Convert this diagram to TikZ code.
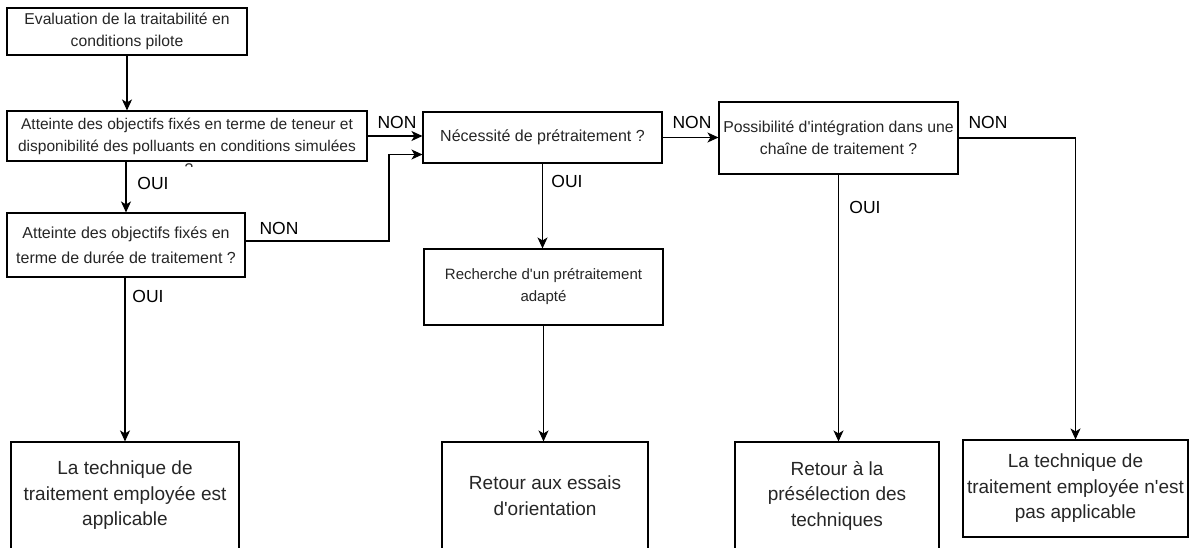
\documentclass[tikz,border=0pt]{standalone}
\usepackage{fontspec}
\setmainfont{Liberation Sans}[Ligatures=TeXOff]
\usetikzlibrary{arrows.meta}
\begin{document}
\begin{tikzpicture}[x=1pt,y=-1pt,
  box/.style={draw=black,line width=1.1pt,align=center,inner sep=0pt,text=black!85,
    font=\fontsize{15.5}{22}\selectfont},
  endbox/.style={box,font=\fontsize{19}{25.5}\selectfont},
  lab/.style={inner sep=0pt,font=\fontsize{17.5}{20}\selectfont,text=black},
  conn/.style={draw=black,line width=1.15pt},
  arr/.style={conn,-{Stealth[length=11pt,width=10pt,inset=3pt]}}]
\useasboundingbox[fill=white] (0,0) rectangle (1193,547);
% boxes
\node[box,minimum width=240,minimum height=47,font=\fontsize{15.7}{22}\selectfont] (b1) at (127,31.5)
  {Evaluation de la traitabilité en\\conditions pilote};
\node[box,minimum width=360,minimum height=50] (b2) at (187,136)
  {Atteinte des objectifs fixés en terme de teneur et\\disponibilité des polluants en conditions simulées};
\node[box,minimum width=238,minimum height=64,font=\fontsize{16}{25}\selectfont] (b3) at (126,245)
  {Atteinte des objectifs fixés en\\terme de durée de traitement ?};
\node[box,minimum width=239,minimum height=51,font=\fontsize{16}{22}\selectfont] (b4) at (542.5,137.5)
  {Nécessité de prétraitement ?};
\node[box,minimum width=239,minimum height=72,font=\fontsize{15.8}{22.5}\selectfont] (b5) at (838.5,138)
  {Possibilité d'intégration dans une\\chaîne de traitement ?};
\node[box,minimum width=239,minimum height=76,font=\fontsize{15}{22}\selectfont] (b6) at (543.5,287)
  {Recherche d'un prétraitement\\adapté};
\node[endbox,minimum width=228,minimum height=107] (e1) at (125,495.5)
  {La technique de\\traitement employée est\\applicable};
\node[endbox,minimum width=206,minimum height=107] (e2) at (545,495.5)
  {Retour aux essais\\d'orientation};
\node[endbox,minimum width=204,minimum height=107] (e3) at (837,495.5)
  {Retour à la\\présélection des\\techniques};
\node[endbox,minimum width=225,minimum height=97] (e4) at (1075.5,488.5)
  {La technique de\\traitement employée n'est\\pas applicable};
% clipped question mark under b2
\begin{scope}
\clip (170,161.5) rectangle (210,166);
\node[inner sep=0pt,font=\fontsize{15.5}{22}\selectfont,text=black!85] (q) at (189,169) {?};
\end{scope}
% connectors
\draw[arr] (b1.south) -- (b1.south |- b2.north);
\draw[arr] (b3.north |- b2.south) -- (b3.north);
\draw[arr] (e1.north |- b3.south) -- (e1.north);
\draw[arr] (b2.east) -- (b4.west |- b2.east);
\coordinate (j) at (389,241);
\draw[arr] ([yshift=4pt]b3.east) -- (j) |- ([yshift=-17pt]b4.west);
\draw[arr] (b4.east) -- (b5.west |- b4.east);
\draw[arr] (b4.south) -- (b4.south |- b6.north);
\draw[arr] (b6.south) -- (b6.south |- e2.north);
\draw[arr] (b5.south) -- (b5.south |- e3.north);
\coordinate (k) at (e4.north |- b5.east);
\draw[arr] (b5.east) -- (k) -- (e4.north);
% labels
\node[lab] (l1) at (397,122) {NON};
\node[lab] (l2) at (279,228) {NON};
\node[lab] (l3) at (153,183) {OUI};
\node[lab] (l4) at (148,296) {OUI};
\node[lab] (l5) at (692,122) {NON};
\node[lab] (l6) at (567,181) {OUI};
\node[lab] (l7) at (988,122) {NON};
\node[lab] (l8) at (865,207) {OUI};
\end{tikzpicture}
\end{document}
